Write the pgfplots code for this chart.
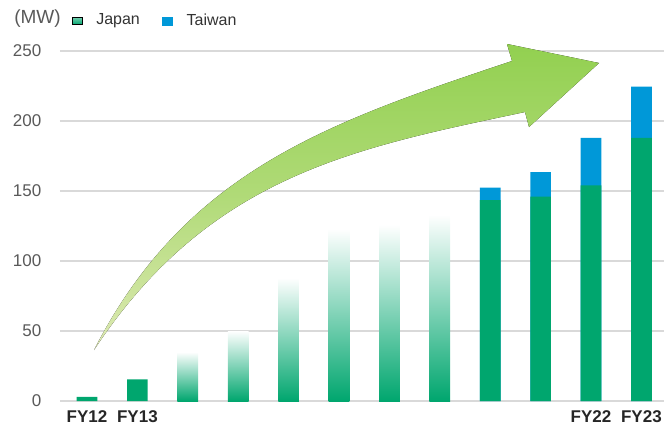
\documentclass[border=0pt]{standalone}
\usepackage{fontspec}
\setmainfont{Liberation Sans}
\usepackage{pgfplots}
\pgfplotsset{compat=1.18}
\definecolor{jgreen}{RGB}{0,166,110}
\definecolor{tblue}{RGB}{0,152,216}
\definecolor{agreen}{RGB}{146,208,80}
\definecolor{apale}{RGB}{222,234,180}
\definecolor{gridc}{RGB}{217,217,217}
\definecolor{labc}{RGB}{89,89,89}
\begin{document}
\begin{tikzpicture}
\useasboundingbox (-30pt,-11.5pt) rectangle (302pt,200.5pt);
\begin{axis}[
  scale only axis,
  width=302pt, height=175pt,
  xmin=-0.536, xmax=11.448,
  ymin=0, ymax=250,
  clip=false,
  axis line style={draw=none},
  tick style={draw=none},
  ymajorgrids, grid style={gridc, line width=0.6pt},
  ytick={0,50,100,150,200,250},
  xtick={0,1,10,11},
  xticklabels={FY12,FY13,FY22,FY23},
  xticklabel style={font=\fontsize{8.5}{10}\selectfont\bfseries, text=black!85, anchor=north, inner sep=0pt, yshift=-0.2pt},
  yticklabel style={font=\fontsize{8.5}{10}\selectfont, text=labc, xshift=-5.8pt},
  /pgf/number format/assume math mode=true,
  ybar, bar width=0.41, bar shift=0pt,
  legend style={draw=none, fill=none, at={(0.02,1.086)}, anchor=west,
    font=\fontsize{8}{9.5}\selectfont, text=black!80,
    /tikz/every even column/.append style={column sep=9pt},
    inner sep=0pt},
  legend columns=2,
  legend cell align=left,
]
% Taiwan (drawn as totals, Japan overlaid)
\addplot[forget plot, draw=none, fill=tblue] coordinates {(8,152.5) (9,163.5) (10,188) (11,224.5)};
% Japan solid
\addplot[forget plot, draw=none, fill=jgreen] coordinates {(0,3) (1,15.5) (8,143.5) (9,146) (10,154) (11,188)};
% Japan gradient bars
\addplot[forget plot, draw=none, top color=white, middle color=jgreen!62, bottom color=jgreen] coordinates {(2,35)};
\addplot[forget plot, draw=none, top color=white, middle color=jgreen!62, bottom color=jgreen] coordinates {(3,50)};
\addplot[forget plot, draw=none, top color=white, middle color=jgreen!62, bottom color=jgreen] coordinates {(4,88)};
\addplot[forget plot, draw=none, top color=white, middle color=jgreen!62, bottom color=jgreen] coordinates {(5,123)};
\addplot[forget plot, draw=none, top color=white, middle color=jgreen!62, bottom color=jgreen] coordinates {(6,126)};
\addplot[forget plot, draw=none, top color=white, middle color=jgreen!62, bottom color=jgreen] coordinates {(7,133)};
% arrow
\fill[top color=agreen, bottom color=apale, middle color=agreen!60!apale]
  (0.139,36.43) .. controls (1.964,165) and (4.821,199.3) .. (8.433,242.86)
  -- (8.333,255) -- (10.159,241.43) -- (8.770,195.71) -- (8.690,206.43)
  .. controls (5.317,180.71) and (2.430,161.43) .. (0.139,36.43)
  -- cycle;
\addlegendimage{legend image code/.code={\fill[top color=jgreen!55, bottom color=jgreen] (0pt,-1.8pt) rectangle (5pt,1.8pt); \path (9.5pt,0pt);}}
\addlegendentry{Japan}
\addlegendimage{legend image code/.code={\fill[tblue] (0pt,-2pt) rectangle (5pt,2pt); \path (10pt,0pt);}}
\addlegendentry{Taiwan}
\node[font=\fontsize{9.5}{11}\selectfont, text=labc, anchor=center] at (rel axis cs:-0.0373,1.093) {(MW)};
\end{axis}
\end{tikzpicture}
\end{document}
